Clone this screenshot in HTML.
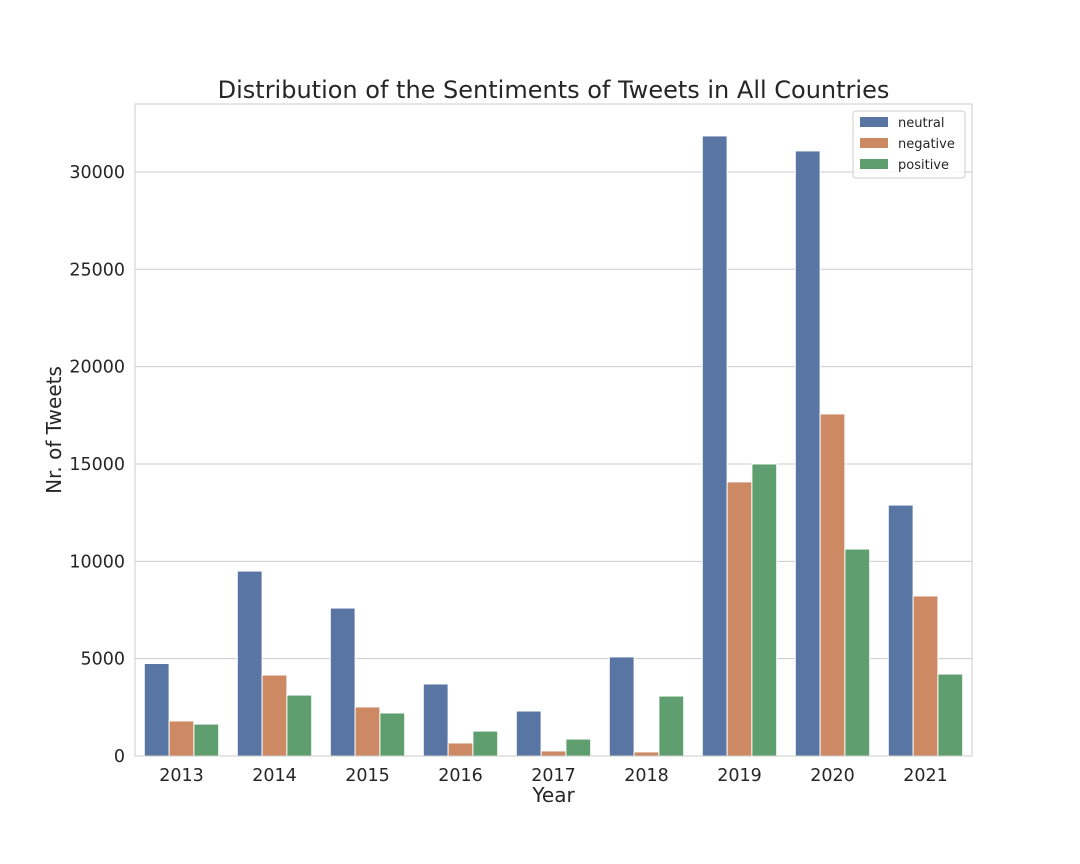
<!DOCTYPE html>
<html><head><meta charset="utf-8"><style>
body{margin:0;background:#fff;}
svg{display:block;font-family:"DejaVu Sans","Liberation Sans",sans-serif;}
</style></head><body>
<svg id="chart" width="1080" height="864"></svg>
<script>
const categories = ["2013","2014","2015","2016","2017","2018","2019","2020","2021"];
const seriesNames = ["neutral","negative","positive"];
const neutral = [4750,9500,7600,3700,2310,5090,31850,31080,12890];
const negative = [1800,4160,2520,670,260,210,14080,17570,8220];
const positive = [1640,3130,2210,1280,870,3080,15000,10630,4210];
const yTicks = [0,5000,10000,15000,20000,25000,30000];
const colors = ["#5975a4","#cc8963","#5f9e6e"];
const series = [neutral, negative, positive];

const svg = document.getElementById('chart');
const NS = "http://www.w3.org/2000/svg";
const L=135,R=972,T=104,B=756,YMAX=33490;
const y = v => B - v/YMAX*(B-T);
const bw = (R-L)/categories.length;
const xc = i => L + bw*(i+0.5);
function mk(tag, attrs, text){const e=document.createElementNS(NS,tag);for(const k in attrs)e.setAttribute(k,attrs[k]);if(text!==undefined)e.textContent=text;svg.appendChild(e);return e;}

yTicks.forEach(t=>{
  const g=mk('line',{x1:L,x2:R,y1:y(t),y2:y(t),stroke:'#cccccc','stroke-width':1});
  
  
  const tx=mk('text',{x:L-10,y:y(t)+6,'text-anchor':'end','font-size':17.5,fill:'#262626'},t);
  
  
});
const barW = bw*0.8/3;
series.forEach((s,si)=>{
  s.forEach((v,i)=>{
    const x0 = xc(i) - bw*0.4 + si*barW;
    const r=mk('rect',{x:x0,y:y(v),width:barW,height:B-y(v),fill:colors[si],stroke:'#fff','stroke-width':1});
    
    
  });
});
categories.forEach((c,i)=>{
  const tx=mk('text',{x:xc(i),y:B+25,'text-anchor':'middle','font-size':17.5,fill:'#262626'},c);
  
  
});
const fr=mk('rect',{x:L,y:T,width:R-L,height:B-T,fill:'none',stroke:'#cccccc','stroke-width':1});



const title=mk('text',{x:(L+R)/2,y:98,'text-anchor':'middle','font-size':24,fill:'#262626'},'Distribution of the Sentiments of Tweets in All Countries');


const xt=mk('text',{x:(L+R)/2,y:802,'text-anchor':'middle','font-size':20,fill:'#262626'},'Year');


const yt=mk('text',{x:0,y:0,'text-anchor':'middle','font-size':20,fill:'#262626',transform:'translate(61,430) rotate(-90)'},'Nr. of Tweets');



const lb=mk('rect',{x:853,y:111,width:112,height:67,rx:3,fill:'#fff','fill-opacity':0.8,stroke:'#cccccc'});


seriesNames.forEach((n,i)=>{
  const yy=122+i*21;
  const p=mk('rect',{x:860,y:yy-5,width:28,height:10,fill:colors[i]});
  
  
  const t=mk('text',{x:898,y:yy+5,'font-size':13,fill:'#262626'},n);
  
  
});
</script>
</body></html>
